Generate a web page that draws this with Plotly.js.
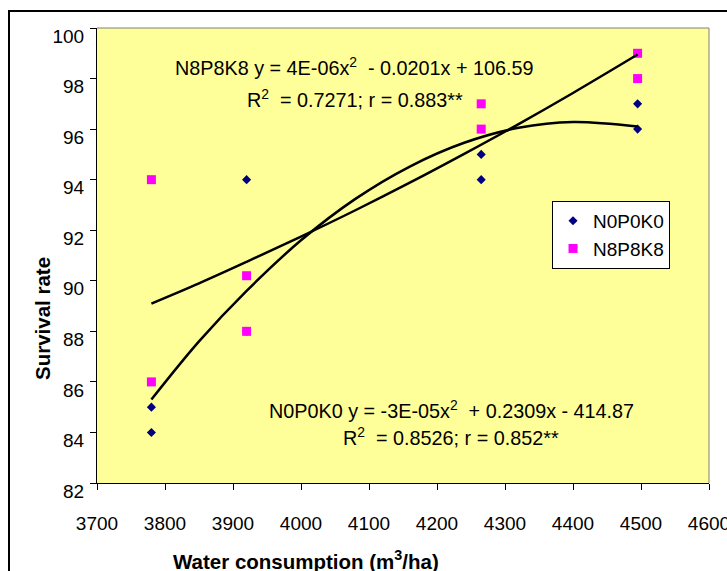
<!DOCTYPE html>
<html>
<head>
<meta charset="utf-8">
<script src="https://cdn.plot.ly/plotly-3.0.1.min.js"></script>
<style>html,body{margin:0;padding:0;background:#fff;}#chart{width:727px;height:571px;}</style>
</head>
<body>
<div id="chart"></div>
<script>
const waterX = [3780, 3780, 3920, 3920, 4265, 4265, 4495, 4495];
const n0p0k0 = [85, 84, 94, 88, 95, 94, 97, 96];
const n8p8k8 = [94, 86, 90.2, 88, 97, 96, 99, 98];

// Trend curves
const trendX = [3780, 3850, 3920, 4000, 4080, 4160, 4240, 4320, 4400, 4495];
const n0Trend = [85.3, 87.6, 89.6, 91.6, 93.24, 94.52, 95.46, 96.05, 96.28, 96.1];
const n8Trend = [89.1, 89.9, 90.75, 91.75, 92.79, 93.88, 95.02, 96.2, 97.43, 98.95];

const seriesNames = ['N0P0K0', 'N8P8K8'];
const eqN8 = ['N8P8K8 y = 4E-06x<sup>2</sup>  - 0.0201x + 106.59', 'R<sup>2</sup>  = 0.7271; r = 0.883**'];
const eqN0 = ['N0P0K0 y = -3E-05x<sup>2</sup>  + 0.2309x - 414.87', 'R<sup>2</sup>  = 0.8526; r = 0.852**'];
const xTitle = 'Water consumption (m<sup>3</sup>/ha)';
const yTitle = 'Survival rate';

const FONT = 'Arial, "Liberation Sans", sans-serif';
const FS = 19;
const FA = 19.8;
const FT = 20.5;

const traces = [
  {x: waterX, y: n0p0k0, name: seriesNames[0], type: 'scatter', mode: 'markers',
   marker: {symbol: 'diamond', size: 7, color: '#000080'}},
  {x: waterX, y: n8p8k8, name: seriesNames[1], type: 'scatter', mode: 'markers',
   marker: {symbol: 'square', size: 9, color: '#FF00FF'}},
  {x: trendX, y: n0Trend, type: 'scatter', mode: 'lines', showlegend: false, hoverinfo: 'skip',
   line: {color: '#000', width: 2.5, shape: 'spline'}},
  {x: trendX, y: n8Trend, type: 'scatter', mode: 'lines', showlegend: false, hoverinfo: 'skip',
   line: {color: '#000', width: 2.5, shape: 'spline'}}
];

const axisBase = {
  showgrid: false, zeroline: false, showline: true, linecolor: '#000', linewidth: 1,
  ticks: 'outside', ticklen: 6, tickcolor: '#000', tickwidth: 1,
  ticklabeloverflow: 'allow',
  tickfont: {family: FONT, size: FS, color: '#000'}
};

const layout = {
  width: 727, height: 571,
  margin: {l: 97, r: 18, t: 28, b: 88},
  paper_bgcolor: '#ffffff',
  plot_bgcolor: '#FFFF99',
  font: {family: FONT, size: FS, color: '#000'},
  xaxis: Object.assign({}, axisBase, {range: [3700, 4600], dtick: 100, tick0: 3700, ticklabelstandoff: 17}),
  yaxis: Object.assign({}, axisBase, {range: [82, 100], dtick: 2, tick0: 82, ticklabelstandoff: 2, ticklabelshift: 8}),
  showlegend: true,
  legend: {x: 0.7435, y: 0.62, xanchor: 'left', yanchor: 'top', bgcolor: '#ffffff',
           bordercolor: '#000', borderwidth: 1, font: {family: FONT, size: FS, color: '#000'},
           tracegroupgap: 0, itemwidth: 30},
  annotations: [
    {xref: 'x', yref: 'y', x: 4078, y: 98.46, text: eqN8[0], showarrow: false, xanchor: 'center', yanchor: 'middle', font: {size: FA}},
    {xref: 'x', yref: 'y', x: 4079, y: 97.23, text: eqN8[1], showarrow: false, xanchor: 'center', yanchor: 'middle', font: {size: FA}},
    {xref: 'x', yref: 'y', x: 4221, y: 84.9, text: eqN0[0], showarrow: false, xanchor: 'center', yanchor: 'middle', font: {size: FA}},
    {xref: 'x', yref: 'y', x: 4221, y: 83.83, text: eqN0[1], showarrow: false, xanchor: 'center', yanchor: 'middle', font: {size: FA}},
    {xref: 'paper', yref: 'paper', x: (306 - 97) / 612, y: -(560 - 483) / 455, text: '<b>' + xTitle + '</b>', showarrow: false,
     xanchor: 'center', yanchor: 'middle', font: {size: FT}},
    {xref: 'paper', yref: 'paper', x: -(97 - 42) / 612, y: (483 - 319) / 455, text: '<b>' + yTitle + '</b>', showarrow: false,
     textangle: -90, xanchor: 'center', yanchor: 'middle', font: {size: FT}}
  ],
  shapes: [
    {type: 'line', xref: 'paper', yref: 'paper', x0: 0, x1: 1, y0: 1, y1: 1, line: {color: '#808080', width: 1}},
    {type: 'line', xref: 'paper', yref: 'paper', x0: 1, x1: 1, y0: 0, y1: 1, line: {color: '#808080', width: 1}},
    {type: 'rect', xref: 'paper', yref: 'paper', x0: -(97 - 9) / 612, x1: 1.2, y0: -0.3, y1: 1 + (28 - 11) / 455,
     line: {color: '#000', width: 2}, fillcolor: 'rgba(0,0,0,0)', layer: 'above'}
  ]
};

Plotly.newPlot('chart', traces, layout, {displayModeBar: false, staticPlot: true});
</script>
</body>
</html>
